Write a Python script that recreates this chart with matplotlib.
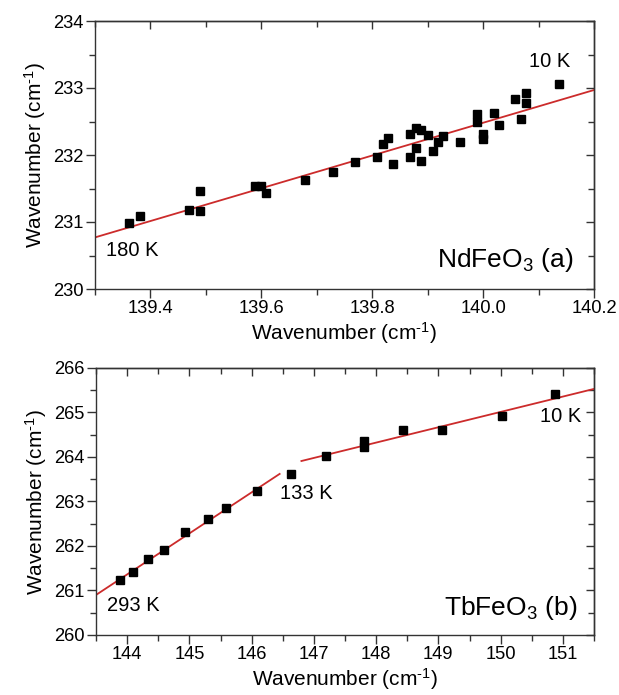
import matplotlib
matplotlib.use("Agg")
import matplotlib.pyplot as plt
from matplotlib.ticker import MultipleLocator

plt.rcParams["font.family"] = ["Liberation Sans", "DejaVu Sans"]
plt.rcParams["mathtext.fontset"] = "custom"
plt.rcParams["mathtext.rm"] = "Liberation Sans"
plt.rcParams["mathtext.it"] = "Liberation Sans"
plt.rcParams["mathtext.default"] = "regular"

# NdFeO3: mode frequency vs. reference mode frequency (cm^-1)
nd_x = [139.361, 139.381, 139.470, 139.490, 139.490, 139.589, 139.599, 139.609,
        139.679, 139.729, 139.769, 139.808, 139.819, 139.829, 139.838, 139.868,
        139.868, 139.879, 139.879, 139.888, 139.888, 139.900, 139.909, 139.918,
        139.928, 139.959, 139.989, 139.989, 139.999, 139.999, 140.019, 140.029,
        140.058, 140.068, 140.077, 140.077, 140.137]
nd_y = [230.99, 231.09, 231.18, 231.47, 231.17, 231.53, 231.53, 231.43,
        231.62, 231.74, 231.90, 231.97, 232.16, 232.26, 231.87, 231.97,
        232.32, 232.40, 232.10, 232.37, 231.91, 232.30, 232.06, 232.20,
        232.29, 232.20, 232.61, 232.49, 232.31, 232.24, 232.63, 232.45,
        232.84, 232.54, 232.93, 232.77, 233.06]
nd_fit_x = [139.3, 140.2]
nd_fit_y = [230.77, 232.97]

# TbFeO3
tb_x = [143.89, 144.10, 144.34, 144.60, 144.93, 145.30, 145.59, 146.09,
        146.63, 147.20, 147.80, 147.80, 148.43, 149.06, 150.02, 150.87]
tb_y = [261.24, 261.42, 261.70, 261.90, 262.31, 262.60, 262.85, 263.24,
        263.61, 264.02, 264.36, 264.22, 264.61, 264.61, 264.92, 265.42]
tb_fit1_x = [143.5, 146.45]
tb_fit1_y = [260.90, 263.62]
tb_fit2_x = [146.80, 151.5]
tb_fit2_y = [263.91, 265.53]

RED = "#cc2b2b"
TICK_FS = 13.2
LABEL_FS = 15
ANN_FS = 14.5
NAME_FS = 19
xlabel = "Wavenumber (cm$^{\u2010 1}$)"

fig = plt.figure(figsize=(6.19, 6.95), dpi=100)
ax1 = fig.add_axes([95 / 619, 1 - 289 / 695, 499 / 619, 268 / 695])
ax2 = fig.add_axes([96 / 619, 1 - 635 / 695, 498 / 619, 267 / 695])


def style(ax, xmaj, xmin, ymaj, ymin):
    ax.xaxis.set_major_locator(MultipleLocator(xmaj))
    ax.xaxis.set_minor_locator(MultipleLocator(xmin))
    ax.yaxis.set_major_locator(MultipleLocator(ymaj))
    ax.yaxis.set_minor_locator(MultipleLocator(ymin))
    ax.tick_params(which="major", direction="out", length=6.5, width=1,
                   labelsize=TICK_FS, pad=1.5, color="#333333")
    ax.tick_params(which="minor", direction="out", length=4, width=1,
                   color="#333333")
    for sp in ax.spines.values():
        sp.set_color("#333333")
        sp.set_linewidth(1)
    top = ax.secondary_xaxis("top")
    right = ax.secondary_yaxis("right")
    top.xaxis.set_major_locator(MultipleLocator(xmaj))
    top.xaxis.set_minor_locator(MultipleLocator(xmin))
    right.yaxis.set_major_locator(MultipleLocator(ymaj))
    right.yaxis.set_minor_locator(MultipleLocator(ymin))
    for sec in (top, right):
        sec.tick_params(which="major", direction="in", length=6, width=1,
                        labelleft=False, labelright=False, labeltop=False,
                        labelbottom=False, color="#333333")
        sec.tick_params(which="minor", direction="in", length=4, width=1,
                        color="#333333")
        for sp in sec.spines.values():
            sp.set_color("#333333")
            sp.set_linewidth(1)


# Panel (a)
ax1.plot(nd_fit_x, nd_fit_y, color=RED, lw=1.3, zorder=2)
ax1.plot(nd_x, nd_y, "s", color="black", ms=5.2, zorder=3)
ax1.set_xlim(139.3, 140.2)
ax1.set_ylim(230, 234)
style(ax1, 0.2, 0.1, 1, 0.5)
ax1.set_xticks([139.4, 139.6, 139.8, 140.0, 140.2])
ax1.set_xticklabels(["139.4", "139.6", "139.8", "140.0", "140.2"])
ax1.set_xlabel(xlabel, fontsize=LABEL_FS, labelpad=2)
ax1.set_ylabel(xlabel, fontsize=LABEL_FS, labelpad=4)
ax1.text(139.319, 230.58, "180 K", fontsize=ANN_FS, ha="left", va="center")
ax1.text(140.157, 233.39, "10 K", fontsize=ANN_FS, ha="right", va="center")
ax1.text(140.162, 230.43, "NdFeO$_3$ (a)", fontsize=NAME_FS, ha="right",
         va="center")

# Panel (b)
ax2.plot(tb_fit1_x, tb_fit1_y, color=RED, lw=1.3, zorder=2)
ax2.plot(tb_fit2_x, tb_fit2_y, color=RED, lw=1.3, zorder=2)
ax2.plot(tb_x, tb_y, "s", color="black", ms=5.2, zorder=3)
ax2.set_xlim(143.5, 151.5)
ax2.set_ylim(260, 266)
style(ax2, 1, 0.5, 1, 0.5)
ax2.set_xlabel(xlabel, fontsize=LABEL_FS, labelpad=2)
ax2.set_ylabel(xlabel, fontsize=LABEL_FS, labelpad=4)
ax2.text(143.67, 260.67, "293 K", fontsize=ANN_FS, ha="left", va="center")
ax2.text(146.46, 263.19, "133 K", fontsize=ANN_FS, ha="left", va="center")
ax2.text(151.29, 264.9, "10 K", fontsize=ANN_FS, ha="right", va="center")
ax2.text(151.24, 260.61, "TbFeO$_3$ (b)", fontsize=NAME_FS, ha="right",
         va="center")

fig.savefig("out.png", dpi=100)
